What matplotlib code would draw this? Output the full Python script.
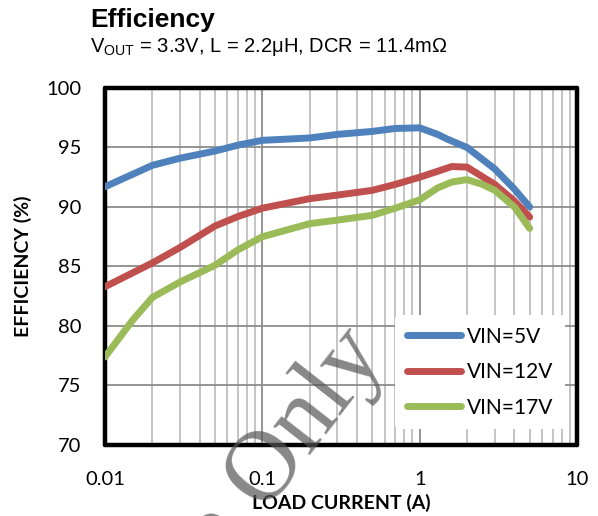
import matplotlib.pyplot as plt
from matplotlib.ticker import FixedLocator, NullFormatter

# load current (A) and efficiency (%)
current_5v = [0.01, 0.02, 0.03, 0.05, 0.07, 0.1, 0.2, 0.3, 0.5, 0.7, 1.0, 1.3, 1.5, 2.0, 3.0, 4.0, 5.0]
eff_5v = [91.7, 93.5, 94.1, 94.7, 95.2, 95.6, 95.8, 96.1, 96.35, 96.6, 96.65, 96.1, 95.7, 95.0, 93.2, 91.5, 90.0]

current_12v = [0.01, 0.02, 0.03, 0.05, 0.07, 0.1, 0.2, 0.3, 0.5, 0.7, 1.0, 1.3, 1.6, 2.0, 3.0, 4.0, 5.0]
eff_12v = [83.3, 85.3, 86.6, 88.4, 89.2, 89.9, 90.7, 91.0, 91.4, 91.9, 92.5, 93.0, 93.4, 93.35, 91.9, 90.5, 89.15]

current_17v = [0.01, 0.015, 0.02, 0.03, 0.05, 0.07, 0.1, 0.2, 0.3, 0.5, 0.7, 1.0, 1.3, 1.6, 2.0, 2.5, 3.0, 4.0, 5.0]
eff_17v = [77.4, 80.5, 82.4, 83.7, 85.1, 86.4, 87.5, 88.6, 88.9, 89.3, 89.9, 90.6, 91.6, 92.1, 92.3, 91.9, 91.4, 90.0, 88.2]

labels = ['VIN=5V', 'VIN=12V', 'VIN=17V']
colors = ['#4F81BD', '#C0504D', '#9BBB59']

x_ticks = [0.01, 0.1, 1, 10]
x_tick_labels = ['0.01', '0.1', '1', '10']
y_ticks = [70, 75, 80, 85, 90, 95, 100]

fig = plt.figure(figsize=(5.98, 5.16), dpi=100)
ax = fig.add_axes([0.1756, 0.1376, 0.7893, 0.6919])

series = [(current_5v, eff_5v), (current_12v, eff_12v), (current_17v, eff_17v)]
for (x, y), lab, c in zip(series, labels, colors):
    ax.plot(x, y, color=c, lw=5, label=lab, solid_capstyle='round', zorder=3)

ax.set_xscale('log')
ax.set_xlim(0.01, 10)
ax.set_ylim(70, 100)
ax.set_xticks(x_ticks)
ax.set_xticklabels(x_tick_labels)
minors = [m * d for d in [0.01, 0.1, 1] for m in range(2, 10)]
ax.xaxis.set_minor_locator(FixedLocator(minors))
ax.xaxis.set_minor_formatter(NullFormatter())
ax.set_yticks(y_ticks)

ax.grid(which='major', color='#8c8c8c', lw=1.3)
ax.grid(which='minor', axis='x', color='#bfbfbf', lw=1.3)
ax.tick_params(which='both', length=0, labelsize=14.5)
ax.tick_params(axis='x', pad=19)
ax.tick_params(axis='y', pad=17)
for lab in ax.get_xticklabels() + ax.get_yticklabels():
    lab.set_family('Lato')

for s in ax.spines.values():
    s.set_linewidth(3.2)
    s.set_color('black')
    s.set_capstyle('round')

ax.set_xlabel('LOAD CURRENT (A)', fontsize=14, fontweight='bold', family='Lato', labelpad=4)
ax.set_ylabel('EFFICIENCY (%)', fontsize=14, fontweight='bold', family='Lato', labelpad=10)

leg = ax.legend(loc='lower right', frameon=True, handlelength=2.6,
                labelspacing=0.75, borderpad=0.55, handletextpad=0.3,
                bbox_to_anchor=(0.997, 0.015), prop={'family': 'Lato', 'size': 15})
leg.get_frame().set_edgecolor('none')
leg.get_frame().set_facecolor('white')
leg.get_frame().set_alpha(1)

fig.text(0.151, 0.947, 'Efficiency', fontsize=19, fontweight='bold', family='Liberation Sans')
fig.text(0.151, 0.900, r'V$_{\mathregular{OUT}}$ = 3.3V, L = 2.2μH, DCR = 11.4mΩ', fontsize=14.5,
         family='Liberation Sans')

# watermark
fig.text(0.648, 0.31, 'Reference Only', fontsize=72, family='Liberation Serif', color='#555555',
         alpha=0.7, rotation=52, rotation_mode='anchor', ha='right', va='baseline', zorder=10)

fig.savefig('out.png', dpi=100)
